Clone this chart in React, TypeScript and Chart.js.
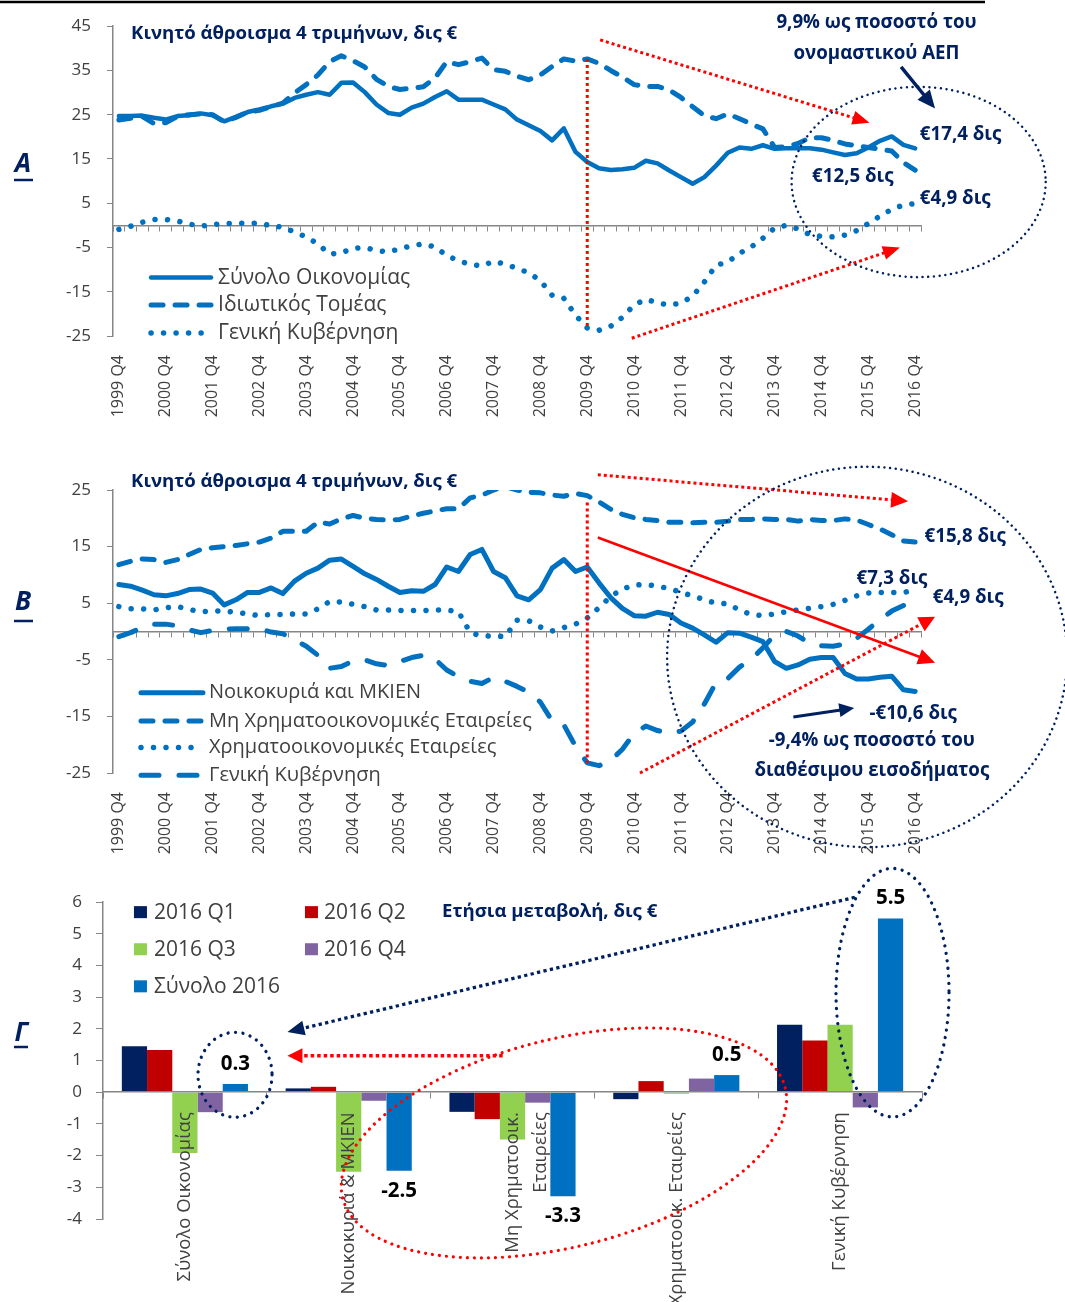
import { useEffect, useRef } from 'react';
import { Chart, registerables } from 'chart.js';

Chart.register(...registerables);

const FONT = "'Open Sans', 'Noto Sans', sans-serif";
const NAVY = '#002060';
const BLUE = '#0070C0';
const RED = '#FF0000';
const TEXT_GRAY = '#404040';
const AXIS_GRAY = '#868686';

const panelTitle = 'Κινητό άθροισμα 4 τριμήνων, δις €';

const quarterLabels = [
  '1999 Q4',
  '2000 Q1', '2000 Q2', '2000 Q3', '2000 Q4',
  '2001 Q1', '2001 Q2', '2001 Q3', '2001 Q4',
  '2002 Q1', '2002 Q2', '2002 Q3', '2002 Q4',
  '2003 Q1', '2003 Q2', '2003 Q3', '2003 Q4',
  '2004 Q1', '2004 Q2', '2004 Q3', '2004 Q4',
  '2005 Q1', '2005 Q2', '2005 Q3', '2005 Q4',
  '2006 Q1', '2006 Q2', '2006 Q3', '2006 Q4',
  '2007 Q1', '2007 Q2', '2007 Q3', '2007 Q4',
  '2008 Q1', '2008 Q2', '2008 Q3', '2008 Q4',
  '2009 Q1', '2009 Q2', '2009 Q3', '2009 Q4',
  '2010 Q1', '2010 Q2', '2010 Q3', '2010 Q4',
  '2011 Q1', '2011 Q2', '2011 Q3', '2011 Q4',
  '2012 Q1', '2012 Q2', '2012 Q3', '2012 Q4',
  '2013 Q1', '2013 Q2', '2013 Q3', '2013 Q4',
  '2014 Q1', '2014 Q2', '2014 Q3', '2014 Q4',
  '2015 Q1', '2015 Q2', '2015 Q3', '2015 Q4',
  '2016 Q1', '2016 Q2', '2016 Q3', '2016 Q4',
];

const yearTickLabels = [
  '1999 Q4', '2000 Q4', '2001 Q4', '2002 Q4', '2003 Q4', '2004 Q4',
  '2005 Q4', '2006 Q4', '2007 Q4', '2008 Q4', '2009 Q4', '2010 Q4',
  '2011 Q4', '2012 Q4', '2013 Q4', '2014 Q4', '2015 Q4', '2016 Q4',
];

// Panel A
const totalEconomy = [
  24.7, 24.7, 24.8, 24.3, 23.9, 24.7, 24.9, 25.3, 24.9, 23.5,
  24.5, 25.6, 26.2, 26.9, 27.5, 28.8, 29.5, 30.1, 29.5, 32.2,
  32.3, 30.1, 27.3, 25.4, 25.0, 26.6, 27.5, 29.0, 30.3, 28.4,
  28.4, 28.4, 27.3, 26.2, 23.9, 22.6, 21.3, 19.2, 21.9, 16.6,
  14.3, 12.9, 12.5, 12.7, 13.0, 14.6, 14.0, 12.4, 10.9, 9.4,
  10.9, 13.5, 16.4, 17.6, 17.3, 18.1, 17.3, 17.4, 17.4, 17.4,
  17.1, 16.5, 15.9, 16.3, 17.6, 19.1, 20.1, 18.2, 17.4,
];
const privateSector = [
  23.8, 24.2, 24.6, 23.0, 23.2, 24.6, 25.0, 25.2, 25.0, 23.4,
  24.4, 25.6, 26.0, 26.8, 27.6, 29.9, 31.8, 34.0, 37.0, 38.3,
  37.2, 35.8, 33.0, 31.4, 30.7, 31.0, 31.3, 33.3, 37.0, 36.3,
  37.0, 37.8, 35.2, 34.8, 33.7, 32.9, 34.0, 35.9, 37.6, 37.1,
  37.6, 36.6, 35.0, 33.5, 31.8, 31.4, 31.4, 30.6, 28.9, 26.8,
  24.8, 24.1, 25.2, 24.1, 22.9, 21.8, 17.6, 17.8, 18.5, 19.8,
  19.8, 19.2, 18.4, 18.0, 17.6, 17.2, 16.8, 14.2, 12.5,
];
const generalGovernment = [
  -0.9, -0.2, 0.7, 1.3, 1.3, 1.0, 0.3, -0.2, 0.2, 0.4,
  0.5, 0.5, 0.5, -0.1, -0.4, -1.5, -2.6, -4.2, -6.5, -6.2,
  -5.2, -5.0, -5.7, -6.0, -5.3, -4.6, -4.2, -4.9, -6.8, -8.0,
  -8.8, -9.2, -8.1, -8.8, -9.7, -10.7, -12.5, -15.8, -16.5, -20.3,
  -23.2, -23.7, -22.8, -20.8, -18.0, -16.7, -17.5, -18.0, -17.6, -16.0,
  -12.8, -9.0, -8.3, -6.3, -4.9, -2.9, -0.6, 0.0, -0.8, -2.1,
  -2.5, -2.6, -2.2, -1.2, 0.4, 2.1, 3.6, 4.6, 4.9,
];

// Panel B
const households = [
  8.3, 8.0, 7.3, 6.5, 6.3, 6.7, 7.4, 7.5, 6.8, 4.7,
  5.6, 6.9, 6.9, 7.7, 6.7, 8.9, 10.3, 11.2, 12.6, 12.8,
  11.5, 10.2, 9.2, 8.0, 6.9, 7.2, 7.1, 8.3, 11.4, 10.6,
  13.6, 14.5, 10.6, 9.5, 6.3, 5.6, 7.4, 11.2, 12.7, 10.6,
  11.4, 8.6, 6.0, 4.1, 2.8, 2.7, 3.4, 3.0, 1.5, 0.6,
  -0.6, -1.9, -0.2, -0.3, -1.0, -1.8, -5.3, -6.5, -5.9, -4.9,
  -4.6, -4.6, -7.4, -8.4, -8.4, -8.1, -7.9, -10.3, -10.6,
];
const nonFinancialCorporations = [
  11.8, 12.4, 12.8, 12.7, 12.2, 12.7, 13.6, 14.5, 14.8, 15.0,
  15.2, 15.5, 15.8, 16.5, 17.7, 17.7, 17.7, 19.3, 19.0, 19.9,
  20.5, 20.0, 19.8, 19.7, 19.8, 20.4, 20.9, 21.3, 21.7, 21.7,
  23.6, 24.1, 25.0, 25.6, 25.0, 24.6, 24.5, 24.1, 23.9, 24.4,
  24.0, 22.9, 21.6, 20.7, 20.1, 19.8, 19.6, 19.3, 19.3, 19.2,
  19.3, 19.3, 19.5, 19.8, 19.8, 19.9, 19.8, 19.8, 19.5, 19.8,
  19.6, 19.6, 19.9, 19.7, 18.9, 18.1, 17.1, 16.0, 15.8,
];
const financialCorporations = [
  4.4, 4.0, 4.0, 3.8, 4.2, 4.4, 3.9, 3.5, 3.6, 3.6,
  3.4, 3.1, 2.8, 3.0, 3.0, 3.1, 3.1, 4.0, 5.3, 5.2,
  4.8, 4.4, 3.8, 3.8, 3.7, 3.7, 3.7, 3.8, 3.8, 3.5,
  -0.2, -0.8, -0.8, -0.9, 2.0, 1.9, 0.8, 0.1, 0.7, 1.3,
  2.4, 4.2, 6.2, 7.5, 8.2, 8.3, 8.0, 7.6, 6.9, 6.3,
  5.6, 5.0, 4.9, 3.8, 3.0, 2.8, 3.1, 3.5, 3.8, 4.1,
  4.4, 4.8, 5.5, 6.3, 6.8, 6.9, 6.9, 6.9, 7.3,
];

// Panel C
const barCategories = [
  'Σύνολο Οικονομίας',
  'Νοικοκυριά & ΜΚΙΕΝ',
  ['Μη Χρηματοοικ.', 'Εταιρείες'],
  'Χρηματοοικ. Εταιρείες',
  'Γενική Κυβέρνηση',
];
const barSeriesLabels = ['2016 Q1', '2016 Q2', '2016 Q3', '2016 Q4', 'Σύνολο 2016'];
const change2016Q1 = [1.45, 0.12, -0.62, -0.22, 2.13];
const change2016Q2 = [1.33, 0.17, -0.85, 0.35, 1.63];
const change2016Q3 = [-1.92, -2.51, -1.49, -0.05, 2.13];
const change2016Q4 = [-0.63, -0.27, -0.33, 0.43, -0.48];
const changeTotal2016 = [0.26, -2.48, -3.28, 0.54, 5.48];
const barColors = ['#002060', '#C00000', '#92D050', '#8064A2', '#0070C0'];

type Pt = [number, number];

function strokeLine(ctx: any, pts: Pt[], color: string, width: number, dash: number[], cap: CanvasLineCap = 'butt') {
  ctx.save();
  ctx.strokeStyle = color;
  ctx.lineWidth = width;
  ctx.setLineDash(dash);
  ctx.lineCap = cap;
  ctx.lineJoin = 'round';
  ctx.beginPath();
  pts.forEach(([x, y], i) => (i ? ctx.lineTo(x, y) : ctx.moveTo(x, y)));
  ctx.stroke();
  ctx.restore();
}

function drawArrow(ctx: any, x1: number, y1: number, x2: number, y2: number, color: string, width: number, dash: number[], headLen: number, headHalf: number) {
  const a = Math.atan2(y2 - y1, x2 - x1);
  const c = Math.cos(a);
  const s = Math.sin(a);
  const bx = x2 - headLen * c;
  const by = y2 - headLen * s;
  strokeLine(ctx, [[x1, y1], [bx + 1.5 * c, by + 1.5 * s]], color, width, dash);
  ctx.save();
  ctx.fillStyle = color;
  ctx.beginPath();
  ctx.moveTo(x2, y2);
  ctx.lineTo(bx - headHalf * s, by + headHalf * c);
  ctx.lineTo(bx + headHalf * s, by - headHalf * c);
  ctx.closePath();
  ctx.fill();
  ctx.restore();
}

function strokeEllipse(ctx: any, cx: number, cy: number, rx: number, ry: number, rot: number, color: string, width: number, dash: number[], cap: CanvasLineCap) {
  ctx.save();
  ctx.strokeStyle = color;
  ctx.lineWidth = width;
  ctx.setLineDash(dash);
  ctx.lineCap = cap;
  ctx.beginPath();
  ctx.ellipse(cx, cy, Math.abs(rx), Math.abs(ry), rot, 0, Math.PI * 2);
  ctx.stroke();
  ctx.restore();
}

function drawText(ctx: any, s: string, x: number, y: number, size: number, color: string, bold = false, align: CanvasTextAlign = 'left', italic = false) {
  ctx.save();
  ctx.font = `${italic ? 'italic ' : ''}${bold ? 'bold ' : ''}${size}px ${FONT}`;
  ctx.fillStyle = color;
  ctx.textAlign = align;
  ctx.textBaseline = 'middle';
  ctx.fillText(s, x, y);
  ctx.restore();
}

function drawPanelLetter(ctx: any, letter: string, x: number, y: number, underlineY: number, x1: number, x2: number) {
  drawText(ctx, letter, x, y, 26, NAVY, true, 'center', true);
  strokeLine(ctx, [[x1, underlineY], [x2, underlineY]], NAVY, 2.5, []);
}

function drawLineLegend(ctx: any, chart: any, x1: number, x2: number, textX: number, rowsY: number[], size: number) {
  chart.data.datasets.forEach((ds: any, i: number) => {
    const y = rowsY[i];
    strokeLine(ctx, [[x1, y], [x2, y]], ds.borderColor, ds.borderWidth, ds.borderDash || [], ds.borderCapStyle || 'butt');
    drawText(ctx, ds.label, textX, y, size, TEXT_GRAY);
  });
}

function scalers(chart: any) {
  const X = (i: number) => chart.scales.x.getPixelForValue(i);
  const Y = (v: number) => chart.scales.y.getPixelForValue(v);
  return { X, Y };
}

const NOTE = 18.7;

const annotationsA = {
  id: 'annotationsA',
  afterDraw(chart: any) {
    const ctx = chart.ctx;
    const { X, Y } = scalers(chart);
    strokeLine(ctx, [[0, 2], [985, 2]], '#000000', 2.5, []);
    drawPanelLetter(ctx, 'Α', 23, 165, 180, 14, 33);
    drawText(ctx, panelTitle, X(1.04), Y(43.2), 18.6, NAVY, true);
    drawLineLegend(ctx, chart, X(2.75), X(7.87), X(8.47), [-11.8, -18.0, -24.3].map(Y), 21);
    strokeLine(ctx, [[X(40), Y(privateSector[40])], [X(40), Y(generalGovernment[40])]], RED, 3, [3, 3]);
    drawArrow(ctx, X(41.1), Y(41.9), X(64.1), Y(23.2), RED, 3, [3, 3], 17, 7);
    drawArrow(ctx, X(43.8), Y(-25.5), X(66.7), Y(-5.0), RED, 3, [3, 3], 17, 7);
    strokeEllipse(ctx, X(68.3), Y(9.8), X(79.15) - X(68.3), Y(0) - Y(21.5), 0, NAVY, 2.5, [0.01, 5.7], 'round');
    drawArrow(ctx, X(66.8), Y(35.8), X(69.7), Y(26.4), NAVY, 3.5, [], 18, 8);
    drawText(ctx, '9,9% ως ποσοστό του', X(64.7), Y(45.7), NOTE, NAVY, true, 'center');
    drawText(ctx, 'ονομαστικού ΑΕΠ', X(64.7), Y(38.9), NOTE, NAVY, true, 'center');
    drawText(ctx, '€17,4 δις', X(68.4), Y(20.5), NOTE, NAVY, true);
    drawText(ctx, '€12,5 δις', X(59.2), Y(10.9), NOTE, NAVY, true);
    drawText(ctx, '€4,9 δις', X(68.4), Y(6.0), NOTE, NAVY, true);
  },
};

const annotationsB = {
  id: 'annotationsB',
  afterDraw(chart: any) {
    const ctx = chart.ctx;
    const { X, Y } = scalers(chart);
    drawPanelLetter(ctx, 'Β', 23, 163, 181, 14, 33);
    drawText(ctx, panelTitle, X(1.04), Y(26.4), 18.6, NAVY, true);
    drawLineLegend(ctx, chart, X(1.89), X(7.18), X(7.7), [-10.8, -15.8, -20.5, -25.4].map(Y), 20);
    strokeLine(ctx, [[X(40), Y(22.8)], [X(40), Y(generalGovernment[40])]], RED, 3, [3, 3]);
    drawArrow(ctx, X(40.9), Y(27.7), X(67.4), Y(23.0), RED, 3, [3, 3], 17, 8);
    drawArrow(ctx, X(40.9), Y(16.6), X(69.7), Y(-5.5), RED, 2.5, [], 17, 8);
    drawArrow(ctx, X(44.5), Y(-25.0), X(69.7), Y(2.6), RED, 3, [3, 3], 16, 8);
    strokeEllipse(ctx, X(63.9), Y(-4.5), X(80.98) - X(63.9), Y(0) - Y(33.6), 0, NAVY, 2.5, [0.01, 5.7], 'round');
    drawArrow(ctx, X(57.6), Y(-15.1), X(62.8), Y(-13.5), NAVY, 3, [], 15, 7);
    drawText(ctx, '€15,8 δις', X(68.8), Y(16.8), NOTE, NAVY, true);
    drawText(ctx, '€7,3 δις', X(63.0), Y(9.3), NOTE, NAVY, true);
    drawText(ctx, '€4,9 δις', X(69.5), Y(6.0), NOTE, NAVY, true);
    drawText(ctx, '-€10,6 δις', X(64.1), Y(-14.6), NOTE, NAVY, true);
    drawText(ctx, '-9,4% ως ποσοστό του', X(64.3), Y(-19.3), NOTE, NAVY, true, 'center');
    drawText(ctx, 'διαθέσιμου εισοδήματος', X(64.3), Y(-24.6), NOTE, NAVY, true, 'center');
  },
};

const annotationsC = {
  id: 'annotationsC',
  afterDraw(chart: any) {
    const ctx = chart.ctx;
    const { X, Y } = scalers(chart);
    drawPanelLetter(ctx, 'Γ', 21, 174, 187, 14, 28);
    // legend
    const rows = [5.68, 4.51, 3.34];
    const boxCols = [-0.311, 0.733];
    const textCols = [-0.189, 0.849];
    chart.data.datasets.forEach((ds: any, idx: number) => {
      const r = Math.floor(idx / 2);
      const c = idx % 2;
      const y = Y(rows[r]);
      ctx.save();
      ctx.fillStyle = ds.backgroundColor;
      ctx.fillRect(X(boxCols[c]), y - 6, 13, 12);
      ctx.restore();
      drawText(ctx, ds.label, X(textCols[c]), y + 1, 21, TEXT_GRAY);
    });
    drawText(ctx, 'Ετήσια μεταβολή, δις €', X(1.57), Y(5.68), 18.6, NAVY, true);
    // total labels
    const meta = chart.getDatasetMeta(4);
    meta.data.forEach((bar: any, k: number) => {
      const v = changeTotal2016[k];
      const y = v >= 0 ? bar.y - 20 : bar.y + 20;
      drawText(ctx, v.toFixed(1), bar.x, y, 20.5, '#000000', true, 'center');
    });
    // ellipses & arrows
    const catW = X(1) - X(0);
    const unitH = Y(0) - Y(1);
    strokeEllipse(ctx, X(0.306), Y(0.55), 0.226 * catW, 1.34 * unitH, 0, NAVY, 3.3, [0.01, 7.5], 'round');
    strokeEllipse(ctx, X(4.32), Y(3.14), 0.345 * catW, 3.92 * unitH, 0, NAVY, 3.3, [0.01, 7.5], 'round');
    strokeEllipse(ctx, X(2.314), Y(-1.6), 1.392 * catW, 3.28 * unitH, (-14 * Math.PI) / 180, RED, 3.2, [0.01, 7], 'round');
    drawArrow(ctx, X(4.09), Y(6.15), X(0.626), Y(1.9), NAVY, 3.3, [3.3, 3.3], 17, 7.5);
    drawArrow(ctx, X(1.94), Y(1.15), X(0.626), Y(1.15), RED, 3.5, [3.5, 3], 15, 7.5);
  },
};

function lineChartConfig(datasets: any[], yMin: number, yMax: number, padding: any, xAxisHeight: number, plugin: any) {
  return {
    type: 'line',
    data: { labels: quarterLabels, datasets },
    options: {
      responsive: false,
      animation: false,
      devicePixelRatio: 1,
      layout: { padding },
      plugins: { legend: { display: false }, tooltip: { enabled: false } },
      elements: { point: { radius: 0, hoverRadius: 0 }, line: { tension: 0 } },
      scales: {
        x: {
          type: 'category',
          position: 'bottom',
          offset: true,
          grid: { display: false, drawTicks: false },
          border: { display: false },
          ticks: {
            autoSkip: false,
            minRotation: 90,
            maxRotation: 90,
            padding: 19,
            color: TEXT_GRAY,
            font: { family: FONT, size: 16 },
            callback: (_v: any, index: number) =>
              yearTickLabels.includes(quarterLabels[index]) ? quarterLabels[index] : '',
          },
          afterFit: (s: any) => {
            s.height = xAxisHeight;
          },
        },
        xZero: {
          type: 'category',
          axis: 'x',
          position: { y: 0 },
          offset: true,
          grid: { display: true, drawOnChartArea: false, drawTicks: true, tickLength: 5, color: AXIS_GRAY, offset: true },
          border: { display: true, color: AXIS_GRAY, width: 1.5 },
          ticks: { display: false },
          afterFit: (s: any) => {
            s.height = 0;
          },
        },
        y: {
          type: 'linear',
          min: yMin,
          max: yMax,
          ticks: { stepSize: 10, padding: 16, color: TEXT_GRAY, font: { family: FONT, size: 17 } },
          grid: { display: true, drawOnChartArea: false, drawTicks: true, tickLength: 6, color: AXIS_GRAY },
          border: { display: true, color: AXIS_GRAY, width: 1.5 },
          afterFit: (s: any) => {
            s.width = 113;
          },
        },
      },
    },
    plugins: [plugin],
  };
}

const solid = { borderColor: BLUE, borderWidth: 4.5, borderDash: [], borderCapStyle: 'round', borderJoinStyle: 'round', fill: false, xAxisID: 'x', yAxisID: 'y' };
const dashed = { ...solid, borderWidth: 5, borderDash: [12, 12] };
const dotted = { ...solid, borderWidth: 5.5, borderDash: [0.01, 12.5] };
const longDash = { ...solid, borderWidth: 5, borderDash: [18, 20] };

function makePanelA() {
  return lineChartConfig(
    [
      { ...solid, label: 'Σύνολο Οικονομίας', data: totalEconomy },
      { ...dashed, label: 'Ιδιωτικός Τομέας', data: privateSector },
      { ...dotted, label: 'Γενική Κυβέρνηση', data: generalGovernment },
    ],
    -25,
    45,
    { left: 0, right: 144, top: 24, bottom: 0 },
    104,
    annotationsA,
  );
}

function makePanelB() {
  return lineChartConfig(
    [
      { ...solid, borderWidth: 5, label: 'Νοικοκυριά και ΜΚΙΕΝ', data: households },
      { ...dashed, label: 'Μη Χρηματοοικονομικές Εταιρείες', data: nonFinancialCorporations },
      { ...dotted, label: 'Χρηματοοικονομικές Εταιρείες', data: financialCorporations },
      { ...longDash, label: 'Γενική Κυβέρνηση', data: generalGovernment },
    ],
    -25,
    25,
    { left: 0, right: 144, top: 50, bottom: 0 },
    87,
    annotationsB,
  );
}

function makePanelC() {
  const series = [change2016Q1, change2016Q2, change2016Q3, change2016Q4, changeTotal2016];
  return {
    type: 'bar',
    data: {
      labels: barCategories,
      datasets: series.map((data, i) => ({
        label: barSeriesLabels[i],
        data,
        backgroundColor: barColors[i],
        borderWidth: 0,
      })),
    },
    options: {
      responsive: false,
      animation: false,
      devicePixelRatio: 1,
      layout: { padding: { left: 0, right: 143, top: 42, bottom: 83 } },
      plugins: { legend: { display: false }, tooltip: { enabled: false } },
      datasets: { bar: { categoryPercentage: 0.77, barPercentage: 1 } },
      scales: {
        x: {
          type: 'category',
          position: { y: 0 },
          offset: true,
          grid: { display: true, drawOnChartArea: false, drawTicks: true, tickLength: 6, color: AXIS_GRAY, offset: true, z: 1 },
          border: { display: true, color: AXIS_GRAY, width: 1.5, z: 1 },
          ticks: {
            z: 2,
            autoSkip: false,
            minRotation: 90,
            maxRotation: 90,
            padding: 14,
            color: TEXT_GRAY,
            font: { family: FONT, size: 18.5, lineHeight: 1.55 },
          },
          afterFit: (s: any) => {
            s.height = 0;
          },
        },
        y: {
          type: 'linear',
          min: -4,
          max: 6,
          ticks: { stepSize: 1, padding: 14, color: TEXT_GRAY, font: { family: FONT, size: 17 } },
          grid: { display: true, drawOnChartArea: false, drawTicks: true, tickLength: 7, color: AXIS_GRAY },
          border: { display: true, color: AXIS_GRAY, width: 1.5 },
          afterFit: (s: any) => {
            s.width = 103;
          },
        },
      },
    },
    plugins: [annotationsC],
  };
}

function ChartCanvas({ top, height, makeConfig }: { top: number; height: number; makeConfig: () => any }) {
  const ref = useRef<HTMLCanvasElement | null>(null);
  useEffect(() => {
    const chart = new Chart(ref.current as HTMLCanvasElement, makeConfig());
    return () => chart.destroy();
  }, [makeConfig]);
  return (
    <canvas
      ref={ref}
      width={1065}
      height={height}
      style={{ position: 'absolute', left: 0, top, width: 1065, height, display: 'block' }}
    />
  );
}

export default function App() {
  return (
    <div style={{ position: 'absolute', left: 0, top: 0, width: 1065, height: 1302, background: '#ffffff', overflow: 'hidden' }}>
      <ChartCanvas top={0} height={440} makeConfig={makePanelA} />
      <ChartCanvas top={440} height={420} makeConfig={makePanelB} />
      <ChartCanvas top={860} height={442} makeConfig={makePanelC} />
    </div>
  );
}
